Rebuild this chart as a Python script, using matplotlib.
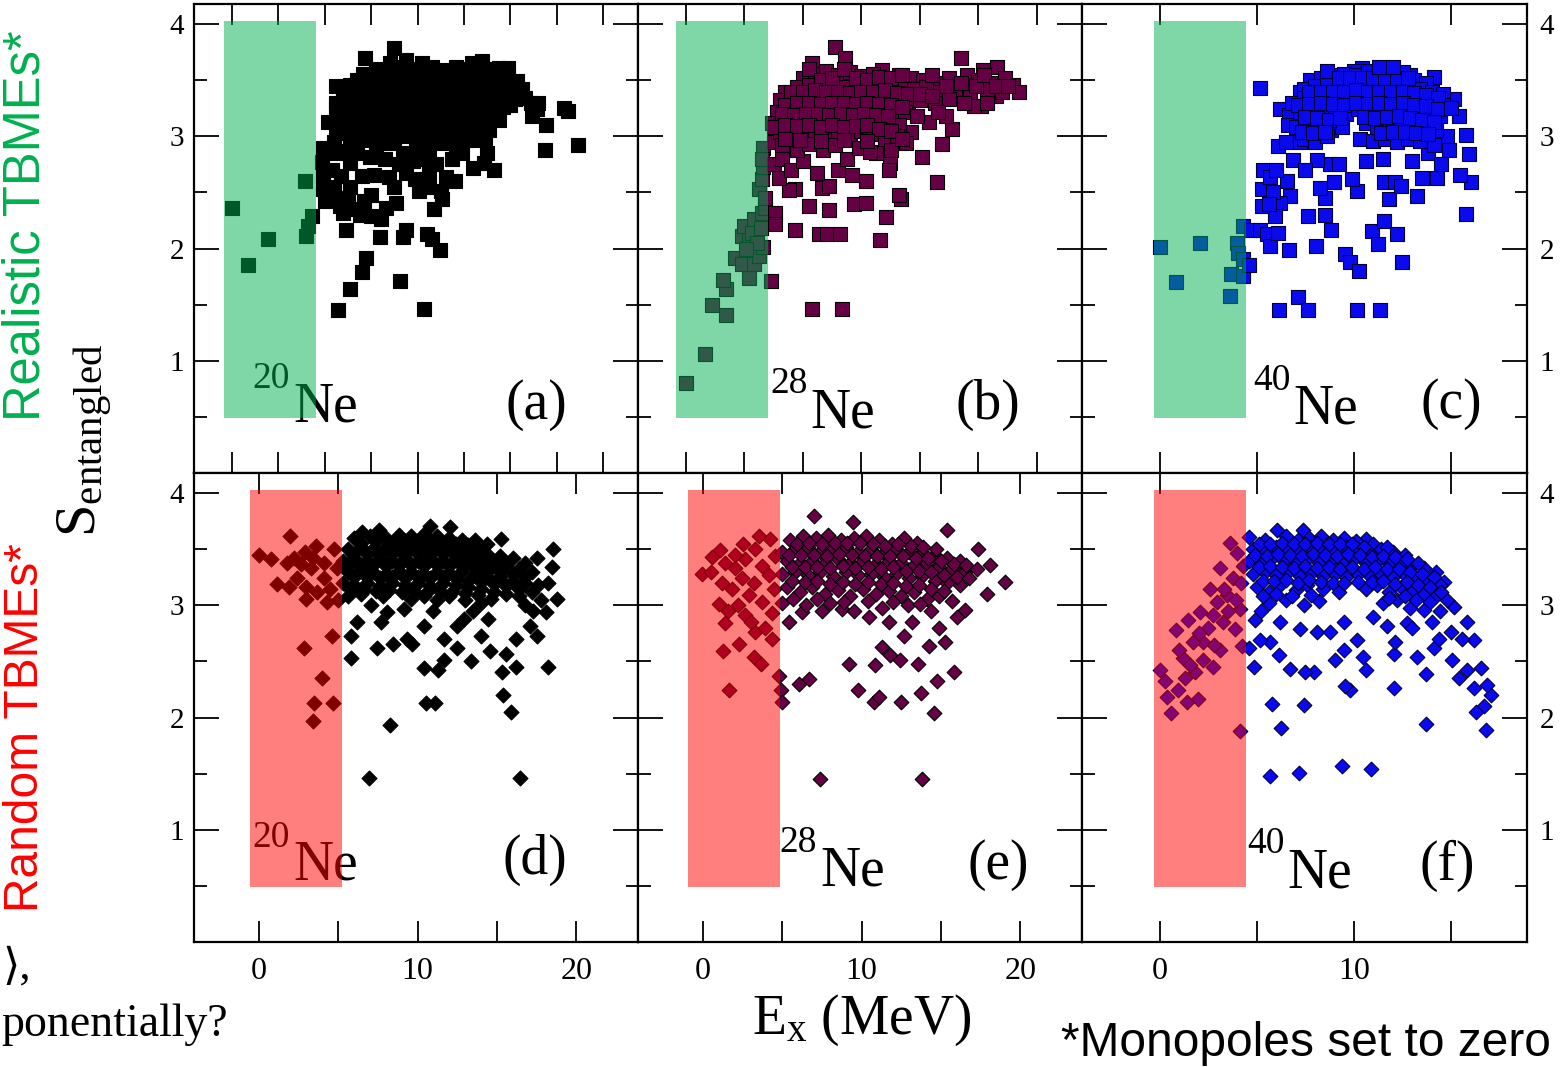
import matplotlib
matplotlib.use("Agg")
import matplotlib.pyplot as plt
from matplotlib.patches import Rectangle
from matplotlib.ticker import MultipleLocator, FixedLocator, FuncFormatter

plt.rcParams['font.family'] = ['Liberation Serif', 'DejaVu Serif']
plt.rcParams['mathtext.fontset'] = 'custom'
plt.rcParams['mathtext.rm'] = 'Liberation Serif'

W, H = 1563, 1067

#---------------------------------------------------------------- data
# (Ex, S_entangled), one list per panel
pts_a = [(0.00,2.36),(0.67,1.85),(1.57,2.09),(3.14,2.60),(3.19,2.11),(3.29,2.20),(3.43,2.29),
         (4.57,1.45),(5.10,1.64),(5.61,1.79),(5.76,1.92),(7.26,1.71),(8.29,1.46),(4.90,2.17),
         (8.96,1.99),(8.39,2.13),(8.60,2.09),(7.00,3.79),(5.71,3.70),(4.46,3.45),(14.93,2.92),
         (13.47,2.88),(14.47,3.23),(14.30,3.25),(13.53,3.10),(13.14,3.24),(12.29,3.49),(11.90,3.61),
         (11.29,2.70),(10.86,2.76),(11.00,2.85),(10.07,2.97),(3.86,2.77),(3.93,2.53),(4.21,2.44),
         (4.64,2.38),(5.36,2.35),(6.00,2.48),(6.14,2.66),(6.76,2.64),(7.07,2.41),(6.64,2.36),
         (6.00,2.29),(6.43,2.26),(7.50,2.17),(6.36,2.10),(7.36,2.10),(8.07,2.51),(9.07,2.44),
         (8.71,2.35),(7.50,2.67),(8.50,2.67),(9.21,2.64),(9.00,2.51),(4.46,2.87),(5.07,2.76),
         (5.93,2.82),(3.90,2.65),(4.30,2.70),(4.70,2.65),(5.10,2.55),(4.00,2.42),(4.50,2.45),
         (4.80,2.32),(5.50,2.30),(5.70,2.42),(6.60,2.80),(7.20,2.75),(7.80,2.78),(8.30,2.80),
         (8.80,2.75),(9.50,2.80),(7.00,2.55),(7.90,2.62),(8.50,2.55),(9.60,2.60),(10.40,2.72),
         (9.90,2.85),(4.14,3.13),(4.50,3.24),(4.93,3.33),(5.36,3.44),(5.64,3.56),(6.21,3.53),
         (6.79,3.65),(7.50,3.68),(8.21,3.65),(9.07,3.59),(9.64,3.62),(10.36,3.65),(10.79,3.67),
         (11.50,3.61),(11.79,3.44),(12.64,3.34),(13.21,3.30),(12.93,3.18),(12.21,3.33),(11.36,3.21),
         (11.07,3.06),(10.50,2.97),(9.64,2.91),(9.07,2.94),(8.50,2.88),(7.93,2.91),(7.36,2.85),
         (6.79,2.94),(6.21,2.91),(5.64,2.97),(5.07,2.94),(4.50,3.03),(4.20,2.85),(4.80,2.85),
         (5.40,2.85),(5.60,2.65),(5.00,2.45),(4.40,2.55),(3.90,2.90)]
dense_a = [(6.50,3.55),(7.10,3.58),(7.70,3.55),(8.30,3.56),(8.90,3.52),(9.50,3.54),(10.10,3.56),
           (10.70,3.55),(11.30,3.52),(11.90,3.55),(5.10,3.46),(5.70,3.44),(6.30,3.45),(6.90,3.47),
           (7.50,3.44),(8.10,3.46),(8.70,3.43),(9.30,3.45),(9.90,3.44),(10.50,3.46),(11.10,3.43),
           (11.70,3.36),(12.50,3.42),(4.80,3.36),(5.40,3.34),(6.00,3.35),(6.60,3.36),(7.20,3.33),
           (7.80,3.35),(8.40,3.36),(9.00,3.34),(9.60,3.35),(10.20,3.33),(10.80,3.36),(11.40,3.32),
           (12.00,3.28),(4.60,3.15),(5.20,3.25),(5.80,3.24),(6.40,3.26),(7.00,3.24),(7.60,3.25),
           (8.20,3.23),(8.80,3.26),(9.40,3.24),(10.00,3.25),(10.60,3.23),(11.20,3.28),(5.00,3.14),
           (5.60,3.16),(6.20,3.15),(6.80,3.13),(7.40,3.16),(8.00,3.14),(8.60,3.15),(9.20,3.13),
           (9.80,3.15),(10.40,3.12),(11.00,3.15),(4.40,2.95),(4.90,3.04),(5.50,3.05),(6.10,3.03),
           (6.70,3.05),(7.30,3.04),(7.90,3.02),(8.50,3.05),(9.10,3.03),(9.70,3.05),(10.30,3.04),
           (10.90,2.98),(6.20,3.60),(6.80,3.58),(7.40,3.62),(8.00,3.60),(8.60,3.62),(9.20,3.58),
           (9.80,3.60),(10.40,3.58),(11.00,3.60),(11.60,3.58),(5.40,3.50),(6.00,3.50),(6.60,3.51),
           (7.20,3.50),(7.80,3.50),(8.40,3.51),(9.00,3.49),(9.60,3.50),(10.20,3.50),(10.80,3.51),
           (11.40,3.48),(12.00,3.46),(5.10,3.40),(5.70,3.40),(6.30,3.40),(6.90,3.41),(7.50,3.40),
           (8.10,3.40),(8.70,3.39),(9.30,3.40),(9.90,3.40),(10.50,3.40),(11.10,3.38),(12.30,3.36),
           (12.90,3.30),(4.50,3.30),(5.10,3.30),(5.70,3.30),(6.30,3.31),(6.90,3.29),(7.50,3.30),
           (8.10,3.30),(8.70,3.31),(9.30,3.30),(9.90,3.29),(10.50,3.30),(11.10,3.31),(11.70,3.26),
           (4.90,3.20),(5.50,3.20),(6.10,3.21),(6.70,3.20),(7.30,3.19),(7.90,3.20),(8.50,3.20),
           (9.10,3.21),(9.70,3.20),(10.30,3.19),(10.90,3.22),(11.50,3.15),(4.70,3.10),(5.30,3.10),
           (5.90,3.09),(6.50,3.10),(7.10,3.10),(7.70,3.09),(8.30,3.10),(8.90,3.10),(9.50,3.09),
           (10.10,3.10),(10.70,3.07),(5.20,3.00),(5.80,2.99),(6.40,3.00),(7.00,2.98),(7.60,3.00),
           (8.20,2.97),(8.80,3.00),(9.40,2.98),(10.00,3.01)]

pts_b = [(0.00,0.80),(0.65,1.06),(1.36,1.41),(0.90,1.50),(1.36,1.64),(1.25,1.72),(2.16,1.74),
         (1.66,1.92),(1.91,1.86),(2.31,1.86),(2.48,1.93),(2.65,2.01),(1.91,2.11),(2.14,2.08),
         (1.97,2.20),(2.31,2.26),(2.59,2.32),(2.71,2.36),(2.48,2.53),(2.59,2.62),(2.65,2.73),
         (2.65,2.90),(2.25,2.14),(2.42,2.05),(2.60,2.80),(2.70,2.45),(2.05,2.00),(2.55,2.18),
         (2.91,1.71),(4.31,1.46),(5.34,1.46),(3.74,2.17),(4.54,2.13),(4.83,2.13),(5.25,2.13),
         (6.65,2.08),(6.85,2.28),(4.19,2.38),(4.88,2.34),(5.74,2.40),(6.16,2.41),(7.34,2.44),
         (7.28,2.48),(8.57,2.59),(8.06,2.82),(8.77,2.93),(3.05,2.32),(3.05,2.22),(3.74,2.53),
         (3.51,2.52),(4.65,2.54),(4.88,2.56),(3.17,2.63),(4.48,2.67),(5.68,2.66),(6.14,2.60),
         (6.99,2.76),(6.95,2.70),(11.17,3.46),(10.59,3.36),(10.08,3.27),(9.85,3.27),(10.65,3.62),
         (9.39,3.70),(10.14,3.59),(9.11,3.07),(8.88,3.18),(8.31,3.13),(7.68,3.04),(7.51,2.94),
         (5.11,3.80),(5.45,3.70),(6.71,3.59),(7.28,3.55),(4.31,3.65),(3.00,2.75),(3.30,2.80),
         (3.60,2.70),(4.00,2.78),(5.20,2.70),(5.50,2.80),(6.50,2.85),(3.00,2.95)]
dense_b = [(4.00,3.52),(4.40,3.56),(4.80,3.58),(5.20,3.55),(5.60,3.57),(6.00,3.54),(6.40,3.56),
           (6.80,3.52),(7.70,3.52),(8.10,3.50),(8.60,3.48),(9.00,3.52),(9.60,3.55),(10.00,3.50),
           (10.40,3.48),(10.90,3.52),(3.40,3.40),(3.80,3.44),(4.20,3.46),(4.60,3.45),(5.00,3.47),
           (5.40,3.44),(5.80,3.46),(6.20,3.43),(6.60,3.45),(7.00,3.46),(7.40,3.43),(7.80,3.42),
           (8.20,3.44),(8.70,3.40),(9.20,3.42),(9.70,3.40),(10.30,3.42),(10.80,3.40),(3.20,3.32),
           (3.60,3.35),(4.00,3.34),(4.40,3.36),(4.80,3.33),(5.20,3.35),(5.60,3.34),(6.00,3.36),
           (6.40,3.33),(6.80,3.35),(7.20,3.34),(7.60,3.30),(8.00,3.32),(8.50,3.30),(9.00,3.33),
           (9.50,3.30),(10.30,3.30),(11.40,3.40),(3.10,3.22),(3.50,3.25),(3.90,3.24),(4.30,3.26),
           (4.70,3.23),(5.10,3.25),(5.50,3.24),(5.90,3.22),(6.30,3.25),(6.70,3.23),(7.10,3.20),
           (7.50,3.22),(7.90,3.18),(8.60,3.22),(2.95,3.12),(3.30,3.15),(3.70,3.14),(4.10,3.16),
           (4.50,3.13),(4.90,3.15),(5.30,3.12),(5.70,3.14),(6.10,3.16),(6.50,3.12),(6.90,3.14),
           (7.30,3.10),(3.20,3.04),(3.60,3.02),(4.00,3.05),(4.40,3.00),(4.80,3.04),(5.20,3.02),
           (5.60,3.00),(6.00,3.05),(6.40,3.02),(6.80,2.98),(7.20,3.00),(3.30,2.92),(3.80,2.88),
           (4.20,2.93),(4.70,2.88),(5.10,2.92),(5.90,2.90),(6.30,2.86),(7.00,2.88),
           (4.20,3.60),(4.60,3.50),(5.00,3.52),(5.40,3.60),(5.80,3.52),(6.20,3.50),(6.60,3.53),
           (7.00,3.52),(7.40,3.55),(8.40,3.55),(8.90,3.45),(9.40,3.48),(9.90,3.45),(10.20,3.55),
           (10.60,3.45),(11.00,3.45),(3.60,3.40),(4.00,3.40),(4.40,3.41),(4.80,3.40),(5.20,3.40),
           (5.60,3.39),(6.00,3.40),(6.40,3.40),(6.80,3.41),(7.20,3.39),(7.60,3.38),(8.00,3.38),
           (8.40,3.36),(3.40,3.28),(3.80,3.30),(4.20,3.30),(4.60,3.29),(5.00,3.30),(5.40,3.30),
           (5.80,3.29),(6.20,3.30),(6.60,3.29),(7.00,3.28),(7.40,3.26),(3.30,3.20),(3.70,3.19),
           (4.10,3.20),(4.50,3.20),(4.90,3.19),(5.30,3.20),(5.70,3.19),(6.10,3.20),(6.50,3.19),
           (6.90,3.18),(3.00,3.08),(3.40,3.10),(3.80,3.09),(4.20,3.10),(4.60,3.08),(5.00,3.10),
           (5.40,3.08),(5.80,3.09),(6.20,3.10),(6.60,3.07),(7.00,3.05),(3.40,2.98),(3.90,2.97),
           (4.60,2.96),(5.40,2.97),(6.20,2.96),(7.40,2.98)]

pts_c = [(0.00,2.01),(0.83,1.70),(2.07,2.05),(3.61,1.58),(3.67,1.77),(3.96,2.05),(4.04,1.96),
         (4.27,2.20),(4.30,1.91),(4.30,1.76),(4.61,1.85),(4.68,2.17),(5.16,3.43),(5.16,2.17),
         (5.51,2.13),(5.68,2.02),(6.11,2.14),(6.63,1.99),(6.16,1.45),(7.14,1.57),(7.62,1.45),
         (7.62,2.29),(8.05,2.02),(8.52,2.30),(8.81,2.17),(9.55,1.95),(9.78,1.88),(10.24,1.80),
         (10.15,1.45),(11.33,1.45),(10.93,2.16),(11.24,2.04),(11.53,2.25),(12.19,2.13),(12.48,1.88),
         (15.75,2.31),(16.00,2.59),(15.46,2.66),(15.92,2.84),(15.75,3.01),(14.29,2.63),(13.51,2.63),
         (13.22,2.47),(11.79,2.44),(11.53,2.59),(12.13,2.59),(12.40,2.56),(10.15,2.51),(9.90,2.62),
         (8.52,2.45),(8.26,2.54),(8.95,2.59),(6.71,2.47),(6.20,2.41),(5.94,2.29),(5.25,2.38),
         (5.25,2.53),(5.30,2.70),(5.85,2.50),(5.68,2.64),(6.54,2.60),(6.11,2.91),(6.20,3.24),
         (6.63,3.19),(7.23,3.40),(7.75,3.50),(8.74,2.75),(8.09,2.79),(6.88,2.79),(15.15,3.33),
         (15.40,3.18),(14.80,3.00),(14.89,2.88),(14.11,3.53),(12.90,3.55),(11.96,3.61),(10.41,3.61),
         (9.98,3.58),(6.00,2.70),(6.50,2.95),(7.20,2.95),(7.50,2.70),(9.20,2.75),(10.60,2.78),
         (11.50,2.80),(13.00,2.78),(13.80,2.85),(14.50,2.75),(5.60,2.40)]
dense_c = [(8.30,3.52),(8.90,3.55),(9.50,3.56),(10.10,3.55),(10.70,3.58),(11.30,3.56),(11.90,3.55),
           (12.50,3.57),(13.10,3.50),(13.70,3.48),(7.40,3.42),(8.00,3.45),(8.60,3.46),(9.20,3.44),
           (9.80,3.46),(10.40,3.47),(11.00,3.45),(11.60,3.46),(12.20,3.44),(12.80,3.45),(13.40,3.42),
           (14.00,3.40),(14.60,3.38),(6.80,3.30),(7.40,3.34),(8.00,3.36),(8.60,3.35),(9.20,3.33),
           (9.80,3.36),(10.40,3.34),(11.00,3.36),(11.60,3.35),(12.20,3.33),(12.80,3.36),(13.40,3.34),
           (14.00,3.32),(14.60,3.28),(6.60,3.10),(7.20,3.22),(7.80,3.24),(8.40,3.22),(9.00,3.25),
           (9.60,3.20),(10.20,3.24),(10.80,3.22),(11.40,3.25),(12.00,3.23),(12.60,3.24),(13.20,3.22),
           (13.80,3.20),(14.40,3.18),(7.00,3.08),(7.60,3.12),(8.20,3.10),(8.80,3.06),(9.40,3.08),
           (10.60,3.12),(11.20,3.08),(11.80,3.10),(12.40,3.12),(13.00,3.08),(13.60,3.10),(14.20,3.06),
           (7.40,2.98),(8.00,2.95),(8.60,3.00),(10.30,2.98),(11.00,2.96),(11.60,2.98),(12.20,2.95),
           (12.80,2.98),(13.40,2.96),(14.10,2.92),
           (8.60,3.58),(9.20,3.52),(9.80,3.52),(10.40,3.52),(11.00,3.52),(11.60,3.52),(12.20,3.52),
           (12.80,3.52),(11.30,3.62),(12.00,3.62),(7.70,3.40),(8.30,3.40),(8.90,3.40),(9.50,3.40),
           (10.10,3.41),(10.70,3.40),(11.30,3.40),(11.90,3.40),(12.50,3.40),(13.10,3.39),(13.70,3.37),
           (14.30,3.34),(7.10,3.28),(7.70,3.29),(8.30,3.30),(8.90,3.29),(9.50,3.28),(10.10,3.30),
           (10.70,3.29),(11.30,3.30),(11.90,3.29),(12.50,3.30),(13.10,3.28),(13.70,3.27),(14.30,3.24),
           (15.00,3.25),(7.50,3.17),(8.10,3.16),(8.70,3.15),(9.30,3.16),(10.50,3.17),(11.10,3.16),
           (11.70,3.17),(12.30,3.18),(12.90,3.16),(13.50,3.15),(14.10,3.13),(7.30,3.04),(7.90,3.03),
           (8.50,3.04),(11.40,3.03),(12.00,3.04),(12.60,3.04),(13.20,3.03),(13.80,3.02)]

pts_d = [(0.00,3.45),(0.74,3.41),(1.95,3.62),(1.16,3.19),(1.89,3.16),(2.42,3.24),(2.94,3.16),
         (2.94,3.06),(3.57,3.53),(2.90,3.48),(4.31,3.03),(4.62,2.73),(2.84,2.62),(4.00,2.35),
         (3.47,2.13),(4.68,2.13),(3.42,1.97),(1.79,3.38),(2.63,3.37),(4.10,3.38),(4.73,3.50),
         (4.94,3.33),(3.26,3.33),(4.10,3.24),(3.68,3.12),(2.20,3.42),(3.40,3.42),(4.50,3.15),
         (5.00,3.05),(6.93,1.46),(16.45,1.46),(8.26,1.93),(10.50,2.13),(11.07,2.13),(15.38,2.20),
         (15.90,2.05),(5.78,2.53),(7.46,2.62),(8.47,2.66),(9.66,2.66),(10.40,2.44),(11.29,2.42),
         (11.67,2.51),(12.50,2.62),(13.34,2.50),(14.56,2.59),(15.34,2.41),(15.55,2.57),(16.18,2.45),
         (18.21,2.45),(18.80,3.06),(18.49,3.34),(18.55,3.50),(18.07,2.94),(17.54,2.73),(17.12,2.82),
         (16.18,2.70),(15.23,3.59),(12.04,3.70),(10.78,3.71),(7.56,3.67),(6.51,3.65),(5.78,2.73),
         (6.20,2.85),(7.67,2.85),(8.09,2.94),(9.14,2.97),(10.40,2.82),(11.67,2.70),(12.50,2.82),
         (12.92,2.88),(14.00,2.73),(14.42,2.88),(9.35,2.70),(7.04,3.00),(17.30,2.95),(16.80,3.00),
         (13.50,2.95),(11.00,2.95)]
dense_d = [(6.00,3.60),(7.00,3.62),(8.00,3.60),(8.80,3.63),(9.60,3.62),(10.40,3.64),(11.20,3.62),
           (12.00,3.60),(12.80,3.58),(13.60,3.58),(14.40,3.55),(5.60,3.50),(6.40,3.52),(7.20,3.50),
           (8.00,3.52),(8.80,3.50),(9.60,3.52),(10.40,3.50),(11.20,3.52),(12.00,3.50),(12.80,3.52),
           (13.60,3.48),(14.40,3.46),(15.20,3.44),(16.00,3.42),(5.30,3.40),(6.00,3.42),(6.80,3.40),
           (7.60,3.42),(8.40,3.40),(9.20,3.42),(10.00,3.40),(10.80,3.42),(11.60,3.40),(12.40,3.42),
           (13.20,3.40),(14.00,3.38),(14.80,3.36),(15.60,3.35),(16.40,3.32),(17.20,3.30),(5.60,3.30),
           (6.40,3.32),(7.20,3.30),(8.00,3.28),(8.80,3.31),(9.60,3.30),(10.40,3.28),(11.20,3.30),
           (12.00,3.29),(12.80,3.31),(13.60,3.28),(14.40,3.26),(15.20,3.25),(16.00,3.22),(16.80,3.20),
           (17.60,3.18),(5.30,3.20),(6.00,3.18),(6.80,3.20),(7.60,3.17),(8.40,3.20),(9.20,3.18),
           (10.00,3.20),(10.80,3.17),(11.60,3.20),(12.40,3.18),(13.20,3.16),(14.00,3.15),(14.80,3.12),
           (15.60,3.10),(16.40,3.08),(5.60,3.08),(6.40,3.10),(7.80,3.08),(9.60,3.06),(10.40,3.08),
           (11.20,3.05),(12.00,3.08),(13.00,3.05),(14.00,3.02),
           (6.40,3.56),(7.40,3.57),(8.40,3.56),(9.20,3.57),(10.00,3.57),(10.80,3.57),(11.60,3.56),
           (12.40,3.55),(13.20,3.54),(14.00,3.52),(5.90,3.46),(6.80,3.46),(7.60,3.46),(8.40,3.46),
           (9.20,3.46),(10.00,3.46),(10.80,3.46),(11.60,3.46),(12.40,3.46),(13.20,3.45),(14.00,3.42),
           (14.80,3.40),(15.60,3.38),(5.60,3.35),(6.40,3.36),(7.20,3.36),(8.00,3.35),(8.80,3.36),
           (9.60,3.36),(10.40,3.35),(11.20,3.36),(12.00,3.35),(12.80,3.35),(13.60,3.33),(14.40,3.31),
           (15.20,3.30),(16.00,3.28),(16.80,3.25),(6.00,3.25),(6.80,3.25),(7.60,3.24),(8.40,3.25),
           (9.20,3.24),(10.00,3.25),(10.80,3.24),(11.60,3.25),(12.40,3.24),(13.20,3.22),(14.00,3.21),
           (14.80,3.19),(15.60,3.17),(16.40,3.15),(17.20,3.12),(5.80,3.14),(6.60,3.14),(7.40,3.13),
           (8.20,3.14),(9.00,3.12),(9.80,3.13),(10.60,3.12),(11.40,3.13),(12.20,3.12),(13.00,3.11),
           (13.80,3.09),(14.60,3.06),(17.80,3.05),(18.20,3.20),(17.50,3.42),(16.80,3.38)]

pts_e = [(-0.06,3.28),(1.09,3.49),(0.57,3.43),(1.62,2.25),(1.24,2.59),(2.29,2.66),(3.19,2.54),
         (3.68,2.48),(1.37,2.84),(2.67,2.91),(3.30,2.76),(4.35,2.70),(4.35,2.93),(0.99,3.01),
         (2.04,3.33),(2.67,3.41),(3.51,3.62),(4.24,3.59),(3.30,3.50),(1.83,3.15),(2.88,3.09),
         (3.72,3.03),(4.14,3.27),(4.56,3.44),(1.41,3.38),(2.46,3.24),(1.60,2.95),(2.20,3.00),
         (3.00,2.85),(3.90,2.80),(0.50,3.30),(1.20,3.20),(2.00,3.45),(3.70,3.35),(4.50,3.15),
         (3.20,3.20),(2.50,3.55),(7.39,1.45),(13.84,1.45),(4.81,2.37),(4.94,2.25),(4.98,2.14),
         (6.03,2.30),(6.66,2.34),(9.18,2.48),(9.77,2.25),(10.76,2.14),(11.07,2.18),(12.50,2.14),
         (13.76,2.22),(14.54,2.04),(14.75,2.33),(15.80,2.41),(10.86,2.47),(11.28,2.63),(11.81,2.56),
         (12.44,2.51),(13.55,2.48),(6.97,3.80),(9.43,3.74),(15.38,3.67),(17.37,3.50),(18.10,3.36),
         (19.05,3.21),(17.90,3.10),(16.53,2.96),(15.27,2.67),(14.22,2.64),(12.65,2.73),(10.44,2.90),
         (8.76,2.97),(6.24,2.94),(5.40,2.85),(14.90,2.80),(13.20,2.85),(11.70,2.85),(9.50,2.95),
         (7.50,2.95),(16.00,2.90)]
dense_e = [(5.50,3.58),(6.30,3.62),(7.10,3.60),(7.90,3.63),(8.70,3.58),(9.50,3.60),(10.30,3.62),
           (11.10,3.58),(11.90,3.55),(12.70,3.60),(13.50,3.56),(5.00,3.48),(5.80,3.50),(6.60,3.52),
           (7.40,3.48),(8.20,3.50),(9.00,3.52),(9.80,3.48),(10.60,3.50),(11.40,3.47),(12.20,3.50),
           (13.00,3.48),(13.80,3.46),(14.60,3.45),(15.40,3.42),(16.20,3.40),(5.30,3.40),(6.10,3.38),
           (6.90,3.40),(7.70,3.38),(8.50,3.41),(9.30,3.38),(10.10,3.40),(10.90,3.37),(11.70,3.40),
           (12.50,3.38),(13.30,3.36),(14.10,3.38),(14.90,3.34),(15.70,3.32),(16.50,3.30),(17.30,3.32),
           (5.00,3.28),(5.80,3.30),(6.60,3.27),(7.40,3.30),(8.20,3.26),(9.00,3.30),(9.80,3.27),
           (10.60,3.28),(11.40,3.25),(12.20,3.28),(13.00,3.24),(13.80,3.26),(14.60,3.22),(15.40,3.20),
           (16.20,3.18),(5.30,3.16),(6.10,3.12),(6.90,3.16),(7.70,3.10),(8.50,3.14),(9.30,3.08),
           (10.10,3.15),(10.90,3.10),(11.70,3.13),(12.50,3.08),(13.30,3.12),(14.10,3.06),(14.90,3.08),
           (15.70,3.04),(5.00,3.02),(6.50,3.00),(8.00,3.02),(11.30,2.98),(12.90,3.00),(14.40,2.95),
           (5.90,3.55),(6.70,3.56),(7.50,3.55),(8.30,3.56),(9.10,3.56),(9.90,3.56),(10.70,3.55),
           (11.50,3.53),(12.30,3.55),(13.10,3.53),(13.90,3.52),(14.70,3.50),(5.40,3.45),(6.20,3.45),
           (7.00,3.45),(7.80,3.44),(8.60,3.46),(9.40,3.45),(10.20,3.44),(11.00,3.44),(11.80,3.44),
           (12.60,3.44),(13.40,3.42),(14.20,3.42),(15.00,3.40),(15.80,3.37),(16.60,3.36),(5.60,3.34),
           (6.40,3.34),(7.20,3.34),(8.00,3.33),(8.80,3.35),(9.60,3.33),(10.40,3.34),(11.20,3.32),
           (12.00,3.34),(12.80,3.31),(13.60,3.31),(14.40,3.30),(15.20,3.27),(16.00,3.25),(16.80,3.24),
           (5.60,3.22),(6.40,3.21),(7.20,3.22),(8.00,3.19),(8.80,3.21),(9.60,3.19),(10.40,3.21),
           (11.20,3.19),(12.00,3.20),(12.80,3.17),(13.60,3.18),(14.40,3.15),(15.20,3.13),(5.70,3.06),
           (7.20,3.06),(8.90,3.03),(10.40,3.04),(12.00,3.03),(13.70,3.01)]

pts_f = [(0.00,2.42),(0.26,2.33),(0.38,2.18),(0.60,2.04),(0.95,2.25),(1.38,2.14),(1.98,2.17),
         (0.86,2.78),(1.46,2.87),(1.20,2.53),(1.81,2.41),(1.55,2.47),(2.24,2.51),(2.75,2.45),
         (2.24,2.67),(3.10,2.60),(2.07,2.94),(2.75,2.91),(3.27,2.85),(3.87,2.79),(2.93,3.03),
         (3.44,3.09),(3.10,3.33),(3.61,3.56),(4.00,3.47),(4.13,1.88),(4.22,2.64),(3.79,3.24),
         (2.58,3.15),(4.13,2.97),(1.72,2.67),(1.00,2.60),(2.50,2.80),(3.50,2.95),(4.20,3.20),
         (3.30,3.15),(2.00,2.75),(1.30,2.35),(2.80,2.65),(4.30,3.35),(3.90,3.05),
         (4.61,3.61),(6.02,3.67),(7.37,3.67),(10.64,3.59),(14.63,3.21),(16.18,2.69),(17.04,2.20),
         (16.78,1.89),(16.70,2.10),(16.27,2.05),(16.52,2.44),(16.83,2.29),(16.18,2.26),(15.83,2.42),
         (15.40,2.35),(15.06,2.51),(15.58,2.70),(14.97,2.76),(13.68,1.94),(13.68,2.39),(13.22,2.54),
         (12.05,2.26),(12.05,2.57),(10.64,2.42),(10.46,2.54),(10.15,2.69),(9.47,2.60),(9.04,2.51),
         (9.81,2.25),(9.55,2.28),(10.88,1.54),(9.38,1.57),(7.19,1.51),(5.65,1.48),(6.25,1.91),
         (5.77,2.12),(7.44,2.11),(7.92,2.41),(7.49,2.41),(6.68,2.43),(4.85,2.45),(6.16,2.56),
         (5.65,2.67),(5.16,2.69),(4.61,2.62),(4.91,2.87),(7.23,2.79),(8.09,2.76),(8.78,2.76),
         (11.70,2.82),(12.13,2.67),(12.74,2.84),(14.11,2.62),(14.37,2.70),(15.15,2.99),(15.80,2.85),
         (14.00,2.85),(9.50,2.85),(6.20,2.85),(5.20,2.95),(11.00,2.90),(13.00,2.80)]
dense_f = [(5.40,3.58),(6.50,3.62),(7.10,3.58),(7.70,3.60),(8.30,3.62),(8.90,3.58),(9.50,3.60),
           (10.10,3.57),(11.00,3.55),(4.80,3.50),(5.40,3.48),(6.00,3.52),(6.60,3.50),(7.20,3.48),
           (7.80,3.52),(8.40,3.50),(9.00,3.48),(9.60,3.52),(10.20,3.50),(10.80,3.47),(11.40,3.50),
           (12.00,3.48),(12.60,3.45),(4.60,3.40),(5.20,3.38),(5.80,3.42),(6.40,3.40),(7.00,3.38),
           (7.60,3.41),(8.20,3.38),(8.80,3.40),(9.40,3.38),(10.00,3.41),(10.60,3.38),(11.20,3.40),
           (11.80,3.37),(12.40,3.38),(13.00,3.35),(13.60,3.33),(14.20,3.30),(4.80,3.28),(5.40,3.30),
           (6.00,3.27),(6.60,3.30),(7.20,3.26),(7.80,3.29),(8.40,3.26),(9.00,3.28),(9.60,3.25),
           (10.20,3.28),(10.80,3.26),(11.40,3.28),(12.00,3.25),(12.60,3.27),(13.20,3.24),(13.80,3.22),
           (14.40,3.18),(5.00,3.16),(5.60,3.12),(6.20,3.18),(7.00,3.14),(7.60,3.18),(8.40,3.15),
           (9.20,3.12),(10.60,3.15),(11.20,3.18),(11.80,3.12),(12.40,3.16),(13.00,3.12),(13.60,3.10),
           (14.20,3.08),(14.80,3.05),(5.60,3.02),(6.50,3.05),(7.40,3.00),(8.20,3.04),(11.50,3.02),
           (12.20,3.05),(12.90,2.98),(13.60,2.96),(14.40,2.95),
           (5.10,3.55),(5.70,3.55),(6.30,3.56),(6.90,3.55),(7.50,3.55),(8.10,3.56),(8.70,3.55),
           (9.30,3.55),(9.90,3.55),(10.50,3.52),(11.70,3.52),(4.90,3.45),(5.50,3.44),(6.10,3.46),
           (6.70,3.45),(7.30,3.44),(7.90,3.46),(8.50,3.45),(9.10,3.44),(9.70,3.46),(10.30,3.45),
           (10.90,3.43),(11.50,3.44),(12.10,3.43),(12.70,3.41),(13.30,3.38),(5.10,3.34),(5.70,3.35),
           (6.30,3.34),(6.90,3.33),(7.50,3.35),(8.10,3.33),(8.70,3.34),(9.30,3.32),(9.90,3.34),
           (10.50,3.32),(11.10,3.34),(11.70,3.32),(12.30,3.32),(12.90,3.30),(13.50,3.28),(14.10,3.25),
           (5.30,3.22),(5.90,3.22),(6.50,3.23),(7.10,3.20),(7.70,3.23),(8.30,3.21),(8.90,3.20),
           (9.50,3.20),(10.20,3.21),(10.90,3.21),(11.50,3.22),(12.10,3.19),(12.70,3.21),(13.30,3.18),
           (13.90,3.16),(14.50,3.12),(5.30,3.08),(6.00,3.10),(6.80,3.08),(7.80,3.09),(11.80,3.07),
           (12.60,3.08),(13.20,3.05),(13.90,3.03)]

nuclei = ['20', '28', '40', '20', '28', '40']
letters = ['(a)', '(b)', '(c)', '(d)', '(e)', '(f)']
x_ticks_lbl = [0, 10, 20]

#---------------------------------------------------------------- layout
def fig_xy(px, py):
    return px / W, 1 - py / H

GREEN = '#00B050'
RED = '#FF0000'
MAROON = '#660044'
BLUE = '#0a0aee'

# panel: points, xlim, x tick step, marker, size, face, edge, shade x-range, shade colour
panels = [
    (pts_a + dense_a, (-1.64, 17.5), 2, 's', 92, 'black', 'black', (-0.34, 3.62), GREEN),
    (pts_b + dense_b, (-1.64, 13.54), 2, 's', 88, MAROON, 'black', (-0.34, 2.80), GREEN),
    (pts_c + dense_c, (-4.0, 18.9), 5, 's', 88, BLUE, '#000033', (-0.31, 4.43), GREEN),
    (pts_d + dense_d, (-4.1, 23.9), 5, 'D', 58, 'black', 'black', (-0.57, 5.23), RED),
    (pts_e + dense_e, (-4.1, 23.9), 5, 'D', 56, MAROON, 'black', (-0.94, 4.85), RED),
    (pts_f + dense_f, (-4.0, 18.9), 5, 'D', 56, BLUE, '#000033', (-0.31, 4.43), RED),
]

# pixel positions: superscript start, baseline; Ne start, baseline; letter centre
label_px = [
    ((252, 388), (293, 422), (536, 405)),
    ((770, 393), (810, 428), (988, 405)),
    ((1253, 390), (1293, 423), (1451, 404)),
    ((252, 847), (293, 880), (535, 860)),
    ((779, 852), (820, 885), (998, 865)),
    ((1247, 853), (1287, 887), (1447, 866)),
]

col_left = [194, 638, 1082]
col_right = [638, 1082, 1527]
row_top = [4, 473]
row_bot = [473, 942]

fig = plt.figure(figsize=(W / 100, H / 100), dpi=100)

for k, (pts, xlim, step, mk, sz, fc, ec, shade, scol) in enumerate(panels):
    r, c = divmod(k, 3)
    l, rt = col_left[c], col_right[c]
    t, b = row_top[r], row_bot[r]
    ax = fig.add_axes([l / W, 1 - b / H, (rt - l) / W, (b - t) / H])

    xs = [p[0] for p in pts]
    ys = [p[1] for p in pts]
    ax.scatter(xs, ys, marker=mk, s=sz, facecolor=fc, edgecolor=ec,
               linewidths=0.8, zorder=2)
    ax.add_patch(Rectangle((shade[0], 0.49), shade[1] - shade[0], 4.03 - 0.49,
                           facecolor=scol, alpha=0.5, edgecolor='none', zorder=4))

    ax.set_xlim(*xlim)
    ax.set_ylim(0, 4.18)
    ax.xaxis.set_major_locator(MultipleLocator(step))
    ax.yaxis.set_major_locator(FixedLocator([1, 2, 3, 4]))
    ax.yaxis.set_minor_locator(FixedLocator([0.5, 1.5, 2.5, 3.5]))

    for sp in ax.spines.values():
        sp.set_linewidth(1.6)
    ax.tick_params(which='both', direction='in', top=True, right=True, width=1.3)
    ax.tick_params(axis='y', which='major', length=18)
    ax.tick_params(axis='y', which='minor', length=9)
    ax.tick_params(axis='x', which='major', length=15)

    if r == 1:
        ax.xaxis.set_major_formatter(FuncFormatter(
            lambda v, p: '%d' % v if int(round(v)) in x_ticks_lbl else ''))
        ax.tick_params(axis='x', labelsize=23, pad=11)
    else:
        ax.tick_params(axis='x', labelbottom=False)

    if c == 0:
        ax.tick_params(axis='y', labelleft=True, labelright=False, labelsize=21, pad=7)
    elif c == 2:
        ax.tick_params(axis='y', labelleft=False, labelright=True, labelsize=21, pad=9)
    else:
        ax.tick_params(axis='y', labelleft=False, labelright=False)

    sup, ne, let = label_px[k]
    x0, y0 = fig_xy(*sup)
    ax.text(x0, y0, nuclei[k], transform=fig.transFigure, fontsize=27,
            ha='left', va='baseline', zorder=1)
    x0, y0 = fig_xy(*ne)
    ax.text(x0, y0, 'Ne', transform=fig.transFigure, fontsize=40,
            ha='left', va='baseline', zorder=1)
    x0, y0 = fig_xy(*let)
    ax.text(x0, y0, letters[k], transform=fig.transFigure, fontsize=40,
            ha='center', va='center', zorder=1)

#---------------------------------------------------------------- outer labels
x0, y0 = fig_xy(85, 440)
fig.text(x0, y0, r'$\mathregular{S_{entangled}}$', fontsize=42, rotation=90,
         ha='center', va='center')
x0, y0 = fig_xy(862, 1020)
fig.text(x0, y0, r'$\mathregular{E_x}$ (MeV)', fontsize=40, ha='center', va='center')

x0, y0 = fig_xy(26, 226)
fig.text(x0, y0, 'Realistic TBMEs*', fontsize=36.5, color=GREEN, rotation=90,
         ha='center', va='center', family=['Liberation Sans', 'DejaVu Sans'])
x0, y0 = fig_xy(26, 728)
fig.text(x0, y0, 'Random TBMEs*', fontsize=34.5, color=RED, rotation=90,
         ha='center', va='center', family=['Liberation Sans', 'DejaVu Sans'])

x0, y0 = fig_xy(1306, 1043)
fig.text(x0, y0, '*Monopoles set to zero', fontsize=34.5, ha='center', va='center',
         family=['Liberation Sans', 'DejaVu Sans'])

# slide text fragments at the left edge
x0, y0 = fig_xy(2, 968)
fig.text(x0, y0, '\u27e9,', fontsize=32, ha='left', va='center',
         family=['Liberation Serif', 'DejaVu Serif', 'DejaVu Sans'])
x0, y0 = fig_xy(1, 1025)
fig.text(x0, y0, 'ponentially?', fontsize=33, ha='left', va='center')

fig.savefig('out.png', dpi=100)
